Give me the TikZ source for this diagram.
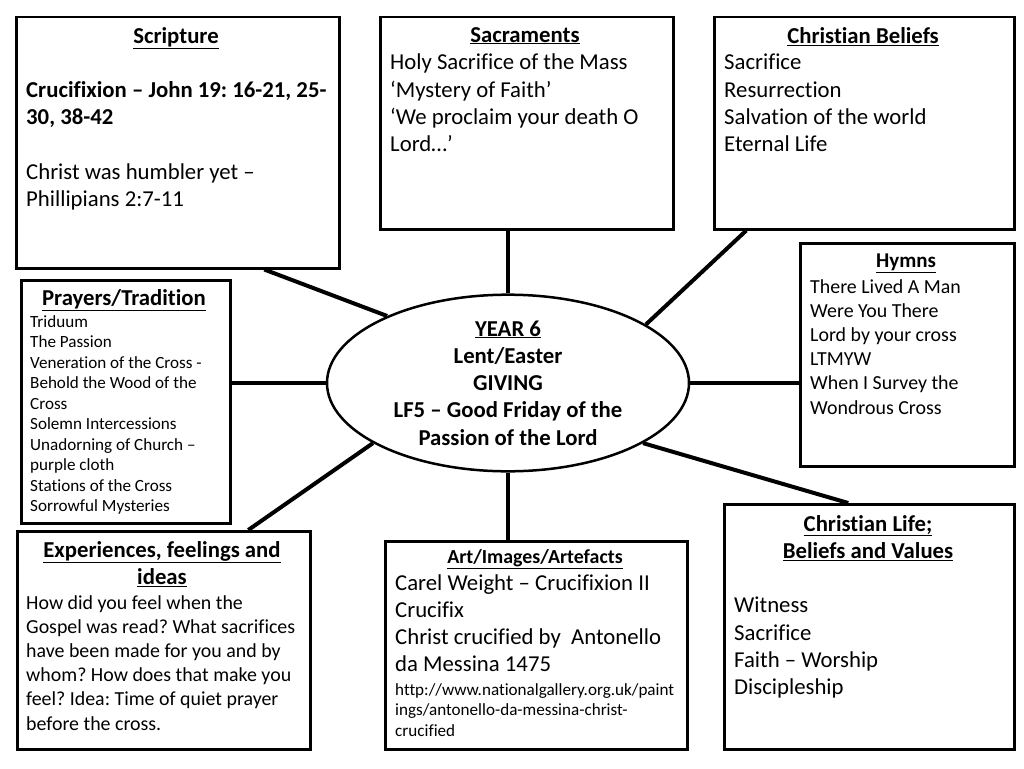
\documentclass[tikz,border=0pt]{standalone}
\usepackage{fontspec}
\setmainfont{Carlito}[Ligatures=NoCommon]
\usetikzlibrary{shapes.geometric}
\frenchspacing
\begin{document}
\begin{tikzpicture}
[x=1pt, y=-1pt, inner sep=0pt]
\tikzstyle{box}=[draw, line width=2.5pt, rectangle, anchor=north west]
\tikzstyle{spoke}=[line width=4pt]
\tikzstyle{head}=[anchor=north, align=center, font=\bfseries\fontsize{22.75}{27.3}\selectfont]
\tikzstyle{body}=[anchor=north west, align=left, font=\fontsize{22.75}{27.3}\selectfont]
\tikzstyle{mid}=[font=\fontsize{19.9}{24.2}\selectfont]
\tikzstyle{small}=[font=\fontsize{17.1}{20.5}\selectfont]
\useasboundingbox (0,0) rectangle (1024,768);

% boxes
\node[box, minimum width=323, minimum height=251] (scripture)   at (15,16)   {};
\node[box, minimum width=293, minimum height=212] (sacraments)  at (379,16)  {};
\node[box, minimum width=300, minimum height=212] (beliefs)     at (713,16)  {};
\node[box, minimum width=214, minimum height=223] (hymns)       at (799,242) {};
\node[box, minimum width=209, minimum height=243] (prayers)     at (20,279)  {};
\node[box, minimum width=293, minimum height=218] (experiences) at (16,530)  {};
\node[box, minimum width=302, minimum height=208] (art)         at (384,540) {};
\node[box, minimum width=290, minimum height=245] (life)        at (723,503) {};

\node[draw, ellipse, line width=2.5pt, minimum width=362, minimum height=166,
      align=center, font=\bfseries\fontsize{22.75}{27.3}\selectfont] (centre) at (508,383)
  {\underline{YEAR 6}\\Lent/Easter\\GIVING\\LF5 – Good Friday of the\\Passion of the Lord};

% texts
\node[head] (scripture-t) at (176,27) {\underline{Scripture}};
\node[body] (scripture-b) at (26,81)
  {\textbf{Crucifixion – John 19: 16-21, 25-}\\\textbf{30, 38-42}\\[27.3pt]Christ was humbler yet –\\Phillipians 2:7-11};

\node[head] (sacraments-t) at (525,27) {\underline{Sacraments}};
\node[body] (sacraments-b) at (390,54)
  {Holy Sacrifice of the Mass\\‘Mystery of Faith’\\‘We proclaim your death O\\Lord…’};

\node[head] (beliefs-t) at (863,27) {\underline{Christian Beliefs}};
\node[body] (beliefs-b) at (724,54)
  {Sacrifice\\Resurrection\\Salvation of the world\\Eternal Life};

\node[head, font=\bfseries\fontsize{21}{25}\selectfont] (hymns-t) at (906,254) {\underline{Hymns}};
\node[body, mid] (hymns-b) at (810,279)
  {There Lived A Man\\Were You There\\Lord by your cross\\LTMYW\\When I Survey the\\Wondrous Cross};

\node[head] (prayers-t) at (124,289) {\underline{Prayers/Tradition}};
\node[body, small] (prayers-b) at (30,315)
  {Triduum\\The Passion\\Veneration of the Cross -\\Behold the Wood of the\\Cross\\Solemn Intercessions\\Unadorning of Church –\\purple cloth\\Stations of the Cross\\Sorrowful Mysteries};

\node[head] (experiences-t) at (162,541) {\underline{Experiences, feelings and}\\\underline{ideas}};
\node[body, mid] (experiences-b) at (26,595)
  {How did you feel when the\\Gospel was read? What sacrifices\\have been made for you and by\\whom? How does that make you\\feel? Idea: Time of quiet prayer\\before the cross.};

\node[head, font=\bfseries\fontsize{19.9}{24.2}\selectfont] (art-t) at (535,549) {\underline{Art/Images/Artefacts}};
\node[body] (art-b) at (395,574)
  {Carel Weight – Crucifixion II\\Crucifix\\Christ crucified by~ Antonello\\da Messina 1475};
\node[body, small] (art-url) at (395,683)
  {http://www.nationalgallery.org.uk/paint\\ings/antonello-da-messina-christ-\\crucified};

\node[head] (life-t) at (868,515) {\underline{Christian Life;}\\\underline{Beliefs and Values}};
\node[body] (life-b) at (734,597)
  {Witness\\Sacrifice\\Faith – Worship\\Discipleship};

% spokes
\draw[spoke] ([xshift=86.5pt]scripture.south) -- (centre.151.8);
\draw[spoke] (centre.north) -- (centre.north |- sacraments.south);
\draw[spoke] ([xshift=-118pt]beliefs.south) -- (centre.23.8);
\draw[spoke] (centre.east) -- (centre.east -| hymns.west);
\draw[spoke] (centre.west) -- (centre.west -| prayers.east);
\draw[spoke] ([xshift=84.5pt]experiences.north) -- (centre.204.4);
\draw[spoke] (centre.south) -- (centre.south |- art.north);
\draw[spoke] ([xshift=-21pt]life.north) -- (centre.336.2);
\end{tikzpicture}
\end{document}
